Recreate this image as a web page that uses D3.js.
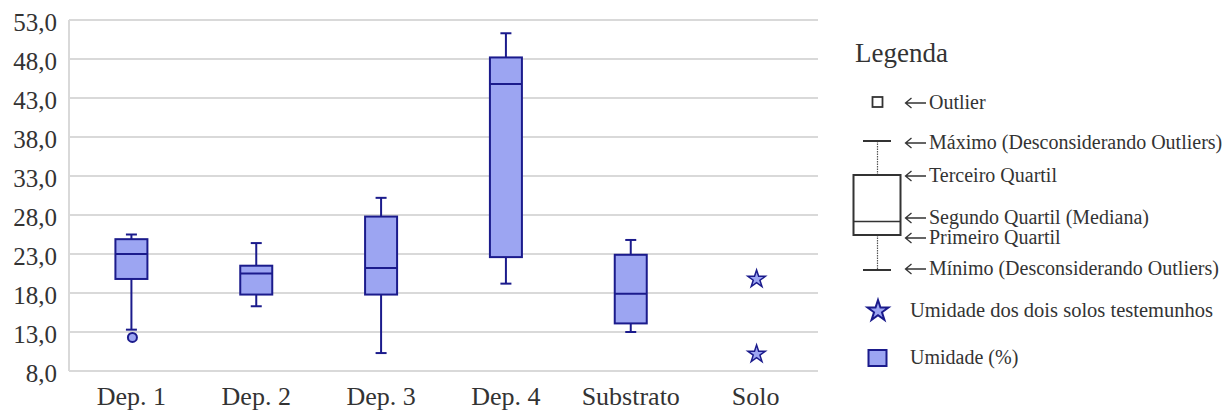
<!DOCTYPE html>
<html>
<head>
<meta charset="utf-8">
<script src="https://cdn.jsdelivr.net/npm/d3@7"></script>
<style>
  body { margin: 0; background: #fff; }
  svg { display: block; font-family: "Liberation Serif", "Times New Roman", serif; }
</style>
</head>
<body>
<div id="chart"></div>
<script>
// data
const categories = ['Dep. 1', 'Dep. 2', 'Dep. 3', 'Dep. 4', 'Substrato', 'Solo'];
const boxCategories = ['Dep. 1', 'Dep. 2', 'Dep. 3', 'Dep. 4', 'Substrato'];
const mins    = [13.3, 16.3, 10.3, 19.2, 13.0];
const q1s     = [19.8, 17.8, 17.8, 22.6, 14.1];
const medians = [23.0, 20.5, 21.2, 44.8, 17.9];
const q3s     = [24.9, 21.5, 27.8, 48.2, 22.9];
const maxs    = [25.5, 24.4, 30.2, 51.3, 24.8];
const outlierCats = ['Dep. 1'];
const outlierValues = [12.3];
const soloValues = [19.9, 10.3];
const yTicks = [8, 13, 18, 23, 28, 33, 38, 43, 48, 53];

const legendLines = [
    { label: 'Outlier', y: 103 },
    { label: 'Máximo (Desconsiderando Outliers)', y: 143 },
    { label: 'Terceiro Quartil', y: 176 },
    { label: 'Segundo Quartil (Mediana)', y: 218 },
    { label: 'Primeiro Quartil', y: 238 },
    { label: 'Mínimo (Desconsiderando Outliers)', y: 269 },
];

const width = 1232, height = 415;
const fill = '#9ca5f2', navy = '#1b1b8c', grid = '#d9d9d9', textCol = '#333';

const svg = d3.select('#chart').append('svg')
    .attr('width', width)
    .attr('height', height)

const x = d3.scaleBand().domain(categories).range([69, 818]);
const y = d3.scaleLinear().domain([8, 53]).range([371, 20]);
const boxW = 32, capW = 11;
const fmt = d => d.toFixed(1).replace('.', ',');

// gridlines
svg.append('g')
    .selectAll('line')
    .data(yTicks)
    .enter().append('line')
    .attr('x1', 69).attr('x2', 818)
    .attr('y1', d => y(d)).attr('y2', d => y(d))
    .style('stroke', grid)
    .style('stroke-width', 2)

svg.append('line')
    .attr('x1', 69).attr('x2', 69)
    .attr('y1', y(53)).attr('y2', y(8))
    .style('stroke', grid)
    .style('stroke-width', 2)

// y axis labels
const yAxis = svg.append('g')
    .attr('transform', 'translate(57,2)')
    .call(d3.axisLeft(y).tickValues(yTicks).tickFormat(fmt).tickSize(0).tickPadding(0))
yAxis.select('.domain').remove()
yAxis.selectAll('text')
    .style('font-family', '"Liberation Serif", serif')
    .style('font-size', '25px')
    .style('fill', textCol)

// x axis labels
const xAxis = svg.append('g')
    .attr('transform', 'translate(0,387)')
    .call(d3.axisBottom(x).tickSize(0).tickPadding(0))
xAxis.select('.domain').remove()
xAxis.selectAll('text')
    .style('font-family', '"Liberation Serif", serif')
    .style('font-size', '26px')
    .style('fill', textCol)

// boxes
const boxes = boxCategories.map((c, i) => ({
    cat: c, min: mins[i], q1: q1s[i], med: medians[i], q3: q3s[i], max: maxs[i]
}));

const box = svg.append('g')
    .selectAll('g')
    .data(boxes)
    .enter().append('g')
    .attr('transform', d => 'translate(' + (x(d.cat) + x.bandwidth() / 2) + ',0)')

box.append('line')
    .attr('x1', 0).attr('x2', 0)
    .attr('y1', d => y(d.max)).attr('y2', d => y(d.min))
    .style('stroke', navy).style('stroke-width', 2)

box.append('line')
    .attr('x1', -capW / 2).attr('x2', capW / 2)
    .attr('y1', d => y(d.max)).attr('y2', d => y(d.max))
    .style('stroke', navy).style('stroke-width', 2)

box.append('line')
    .attr('x1', -capW / 2).attr('x2', capW / 2)
    .attr('y1', d => y(d.min)).attr('y2', d => y(d.min))
    .style('stroke', navy).style('stroke-width', 2)

box.append('rect')
    .attr('x', -boxW / 2)
    .attr('width', boxW)
    .attr('y', d => y(d.q3))
    .attr('height', d => y(d.q1) - y(d.q3))
    .style('fill', fill)
    .style('stroke', navy).style('stroke-width', 2)

box.append('line')
    .attr('x1', -boxW / 2).attr('x2', boxW / 2)
    .attr('y1', d => y(d.med)).attr('y2', d => y(d.med))
    .style('stroke', navy).style('stroke-width', 2)

// outliers
svg.append('g')
    .selectAll('circle')
    .data(outlierValues)
    .enter().append('circle')
    .attr('cx', (d, i) => x(outlierCats[i]) + x.bandwidth() / 2 + 1)
    .attr('cy', d => y(d))
    .attr('r', 4.5)
    .style('fill', fill)
    .style('stroke', navy).style('stroke-width', 2)

// solo stars
const star = d3.symbol(d3.symbolStar, 95);
svg.append('g')
    .selectAll('path')
    .data(soloValues)
    .enter().append('path')
    .attr('d', star)
    .attr('transform', d => 'translate(' + (x('Solo') + x.bandwidth() / 2 + 1) + ',' + (y(d) + 1) + ')')
    .style('fill', fill)
    .style('stroke', navy).style('stroke-width', 1.5)

// legend
const leg = svg.append('g')
const legText = (sel) => sel
    .style('font-family', '"Liberation Serif", serif')
    .style('font-size', '20px')
    .style('fill', textCol)
    .attr('dominant-baseline', 'central')

leg.append('text')
    .attr('x', 855).attr('y', 53)
    .attr('dominant-baseline', 'central')
    .style('font-family', '"Liberation Serif", serif')
    .style('font-size', '27px')
    .style('fill', textCol)
    .text('Legenda')

leg.append('rect')
    .attr('x', 872.5).attr('y', 97)
    .attr('width', 10).attr('height', 10)
    .style('fill', '#fff')
    .style('stroke', textCol).style('stroke-width', 1.8)

// legend box-plot sketch
const lx = 877.5;
leg.append('line')
    .attr('x1', lx).attr('x2', lx).attr('y1', 141).attr('y2', 175)
    .style('stroke', '#555').style('stroke-width', 1.2).style('stroke-dasharray', '1.5,1')
leg.append('line')
    .attr('x1', lx).attr('x2', lx).attr('y1', 235).attr('y2', 270)
    .style('stroke', '#555').style('stroke-width', 1.2).style('stroke-dasharray', '1.5,1')
leg.append('line')
    .attr('x1', 863).attr('x2', 891).attr('y1', 141).attr('y2', 141)
    .style('stroke', textCol).style('stroke-width', 2)
leg.append('line')
    .attr('x1', 863).attr('x2', 891).attr('y1', 270).attr('y2', 270)
    .style('stroke', textCol).style('stroke-width', 2)
leg.append('rect')
    .attr('x', 853.5).attr('y', 175)
    .attr('width', 47).attr('height', 60)
    .style('fill', '#fff')
    .style('stroke', textCol).style('stroke-width', 2)
leg.append('line')
    .attr('x1', 853.5).attr('x2', 900.5).attr('y1', 221.5).attr('y2', 221.5)
    .style('stroke', textCol).style('stroke-width', 1.5)

const legItem = leg.append('g')
    .selectAll('g')
    .data(legendLines)
    .enter().append('g')

legItem.append('path')
    .attr('d', d => `M926,${d.y}H905.5M911.5,${d.y - 5}L905.5,${d.y}L911.5,${d.y + 5}`)
    .style('fill', 'none')
    .style('stroke', textCol).style('stroke-width', 1.3)

legItem.append('text').call(legText)
    .attr('x', 929)
    .attr('y', d => d.y - 1)
    .text(d => d.label)

leg.append('path')
    .attr('d', d3.symbol(d3.symbolStar, 135))
    .attr('transform', 'translate(878,311)')
    .style('fill', fill)
    .style('stroke', navy).style('stroke-width', 2)
leg.append('text').call(legText)
    .attr('x', 910).attr('y', 310)
    .style('font-size', '20.5px')
    .text('Umidade dos dois solos testemunhos')

leg.append('rect')
    .attr('x', 868.5).attr('y', 350)
    .attr('width', 18).attr('height', 16)
    .style('fill', fill)
    .style('stroke', navy).style('stroke-width', 2)
leg.append('text').call(legText)
    .attr('x', 910).attr('y', 357)
    .text('Umidade (%)')
</script>
</body>
</html>
